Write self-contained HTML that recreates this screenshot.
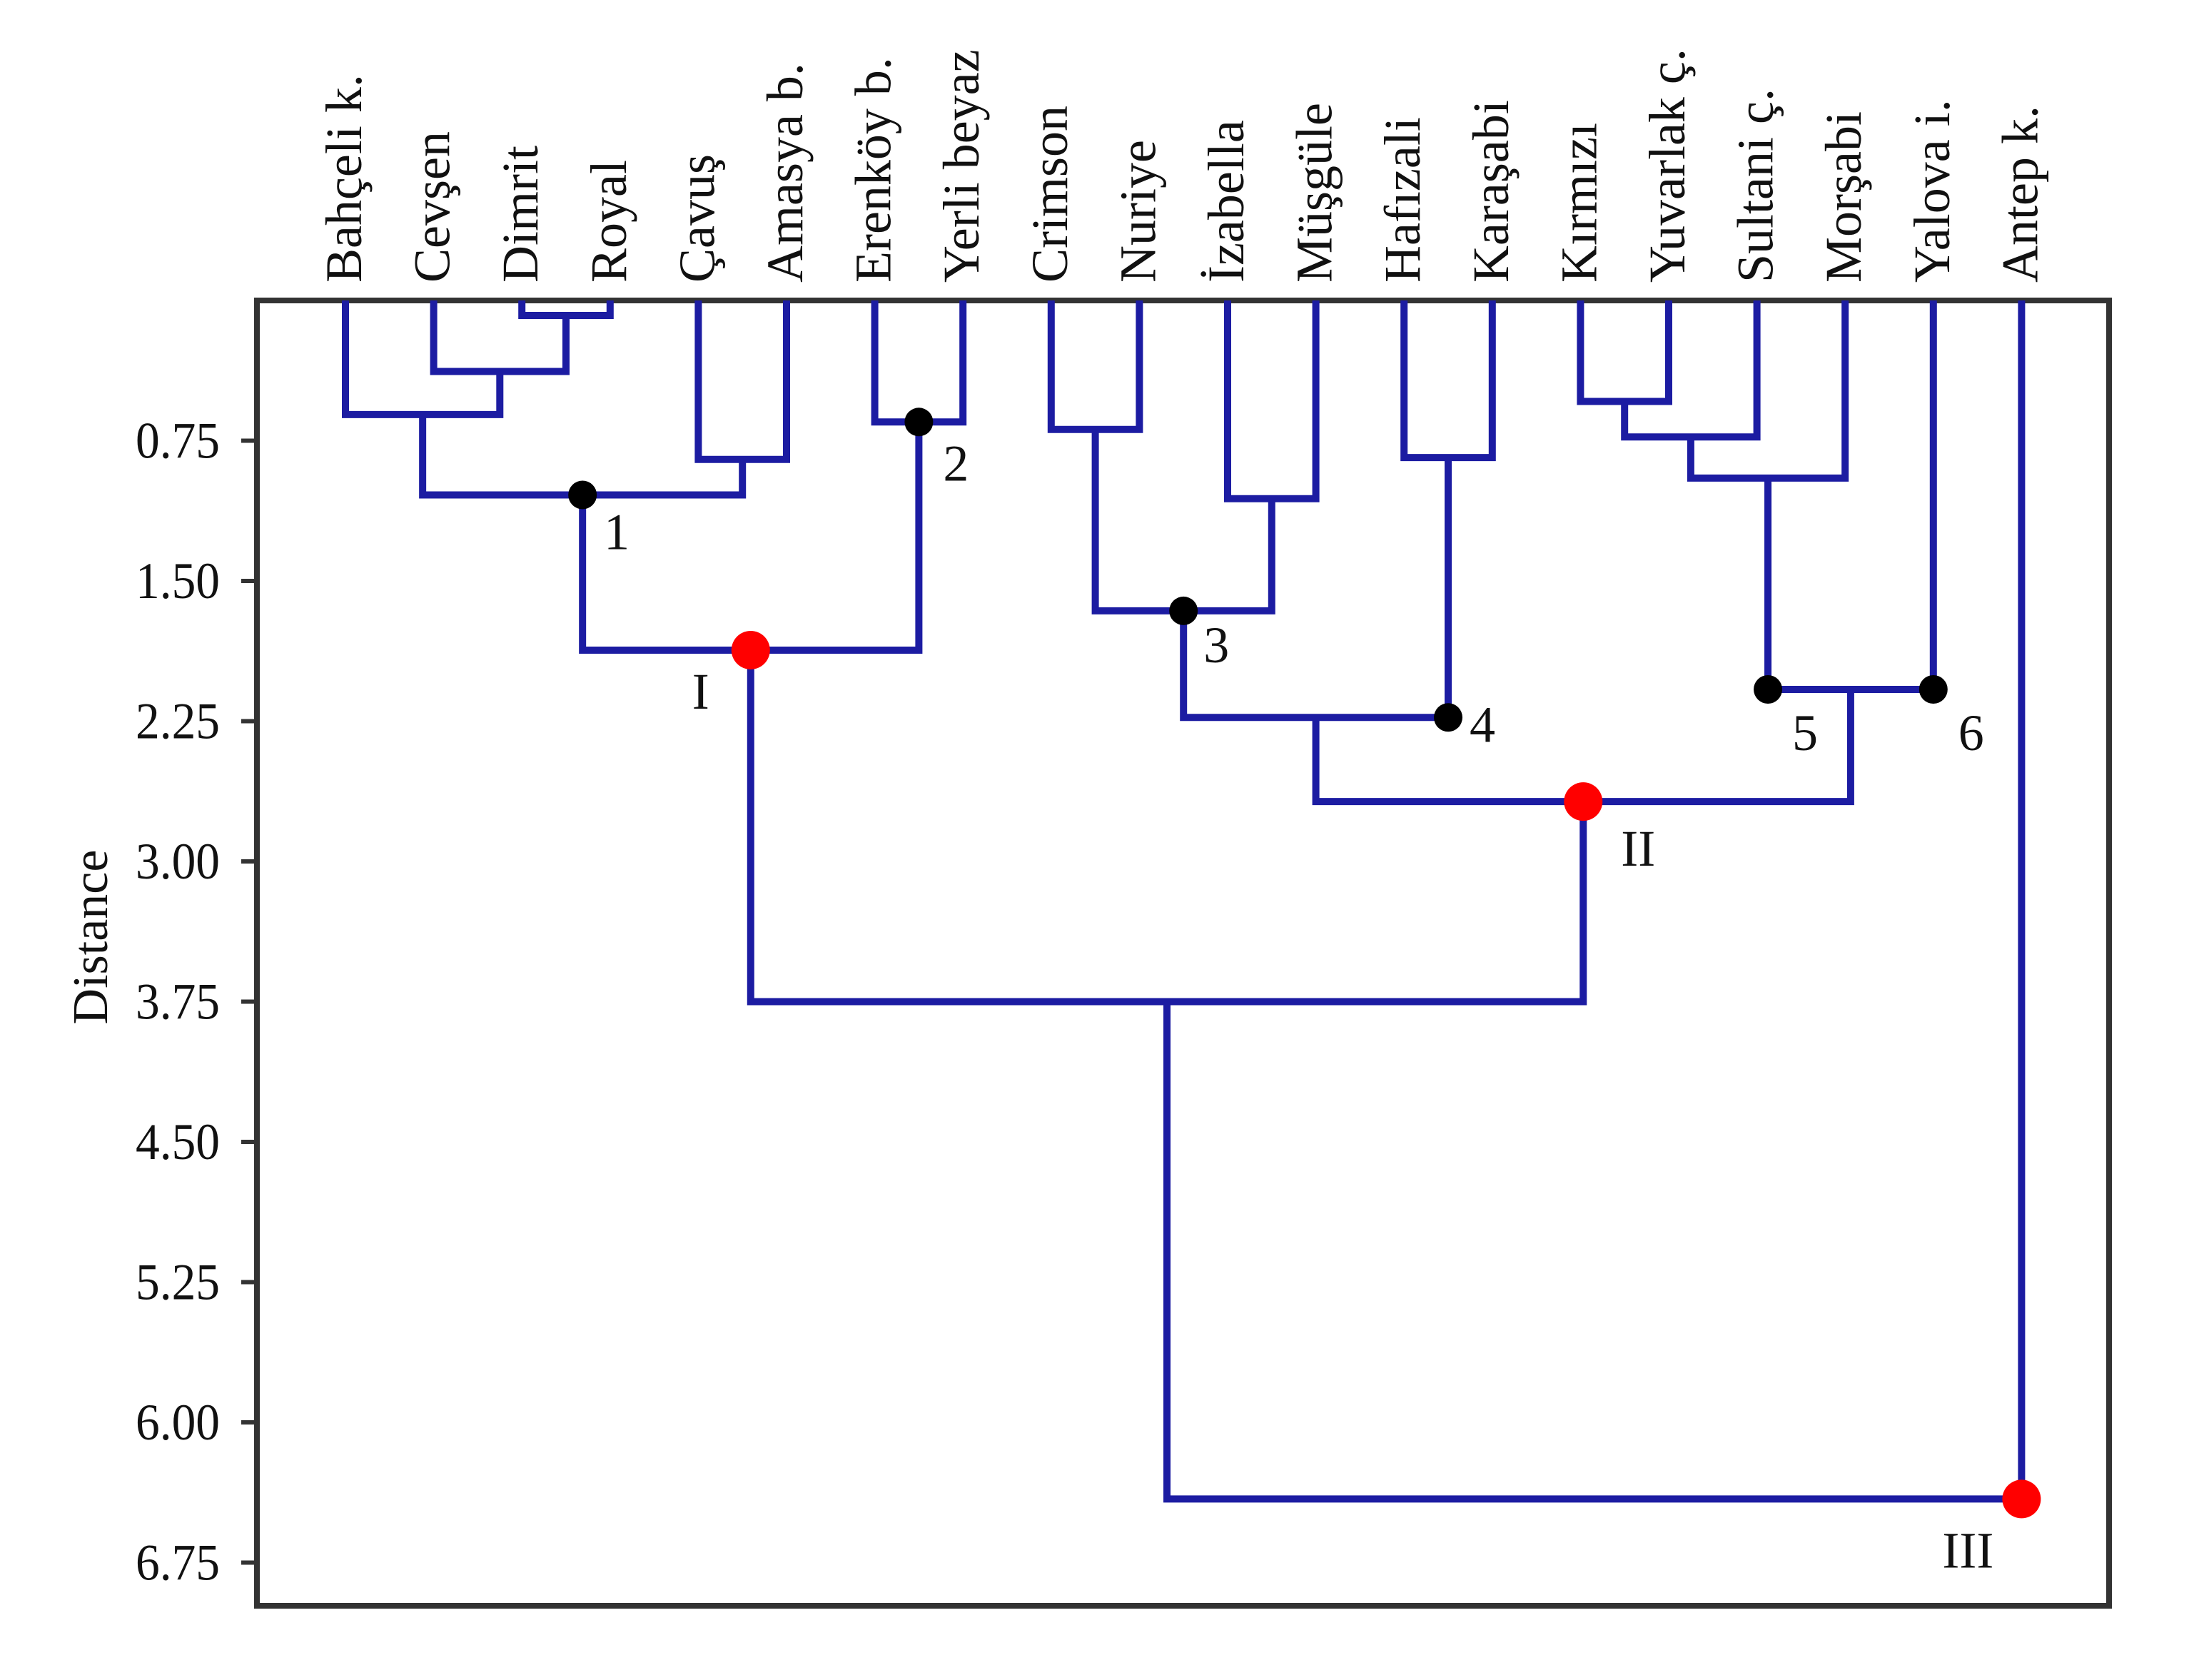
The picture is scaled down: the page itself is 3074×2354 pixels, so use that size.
<!DOCTYPE html>
<html><head><meta charset="utf-8"><style>
html,body{margin:0;padding:0;background:#fff}
svg{display:block}
text{font-family:"Liberation Serif",serif;fill:#111}
</style></head><body>
<svg id="chart" width="3074" height="2354" viewBox="0 0 3074 2354" xmlns="http://www.w3.org/2000/svg">
<rect x="360" y="421" width="2595" height="1829" fill="none" stroke="#333" stroke-width="8"/>
<text transform="translate(150,1313) rotate(-90)" text-anchor="middle" font-size="70">Distance</text>
<g id="marks"></g>
</svg>
<script>
const leaves = ["Bahçeli k.","Cevşen","Dimrit","Royal","Çavuş","Amasya b.","Erenköy b.","Yerli  beyaz","Crimson","Nuriye","İzabella","Müşgüle","Hafızali","Karaşabi","Kırmızı","Yuvarlak  ç.","Sultani  ç.","Morşabi","Yalova i.","Antep k."];
// merges: cluster id = 20 + index; children are leaf indices (0..19) or cluster ids
const mergeLeft  = [2, 1, 0, 4, 22, 6, 24, 8, 10, 27, 12, 29, 14, 32, 33, 34, 31, 26, 37];
const mergeRight = [3, 20, 21, 5, 23, 7, 25, 9, 11, 28, 13, 30, 15, 16, 17, 18, 35, 36, 19];
const mergeHeight= [0.08,0.38,0.61,0.85,1.04,0.65,1.87,0.69,1.06,1.66,0.84,2.23,0.54,0.73,0.95,2.08,2.68,3.75,6.41];
const yTicks = [0.75,1.50,2.25,3.00,3.75,4.50,5.25,6.00,6.75];
// markers: merge index, position, color, label, label offsets
const markerMerge = [4, 5, 6, 9, 11, 15, 15, 16, 18];
const markerPos   = ['mid','mid','mid','mid','right','left','right','mid','right'];
const markerColor = ['black','black','red','black','black','black','black','red','red'];
const markerLabel = ['1','2','I','3','4','5','6','II','III'];
const labelDx = [48, 52, -70, 46, 48, 52, 53, 77, -75];
const labelDy = [52, 58, 58, 48, 10, 61, 61, 66, 72];
</script>
<script>
const NS="http://www.w3.org/2000/svg";
const svg=document.getElementById('marks');
const X0=484, STEP=123.6, Y0=421, YS=262;
const xLeaf=i=>X0+i*STEP;
const yScale=d=>Y0+d*YS;
function mk(tag,attrs){const e=document.createElementNS(NS,tag);for(const k in attrs)e.setAttribute(k,attrs[k]);svg.appendChild(e);return e;}
yTicks.forEach(t=>{
  const y=yScale(t);
  const tk=mk('line',{x1:338,x2:360,y1:y,y2:y,stroke:'#333','stroke-width':6});
  
  
  const tl=mk('text',{x:308,y:y,'text-anchor':'end','dominant-baseline':'central','font-size':72,'textLength':118,'lengthAdjust':'spacingAndGlyphs'});
  tl.textContent=t.toFixed(2);
  
  
});
leaves.forEach((n,i)=>{
  const x=xLeaf(i)+22;
  const t=mk('text',{transform:`translate(${x},396) rotate(-90)`,'text-anchor':'start','font-size':72});
  t.textContent=n;
  
  
});
const nx=[],ny=[];
leaves.forEach((n,i)=>{nx[i]=xLeaf(i);ny[i]=0;});
const col='#1c1ca2';
for(let m=0;m<mergeLeft.length;m++){
  const a=mergeLeft[m], b=mergeRight[m], h=mergeHeight[m];
  const id=20+m;
  nx[id]=(nx[a]+nx[b])/2; ny[id]=h;
  const xa=nx[a], xb=nx[b], ya=yScale(ny[a]), yb=yScale(ny[b]), y=yScale(h);
  const p=mk('path',{d:`M${xa},${ya}V${y}H${xb}V${yb}`,fill:'none',stroke:col,'stroke-width':10,'stroke-linejoin':'miter'});
  
  
}
markerMerge.forEach((mi,k)=>{
  const a=mergeLeft[mi], b=mergeRight[mi];
  const pos=markerPos[k];
  const x=pos==='mid'?(nx[a]+nx[b])/2:(pos==='left'?nx[a]:nx[b]);
  const y=yScale(mergeHeight[mi]);
  const c=mk('circle',{cx:x,cy:y,r:markerColor[k]==='red'?27:20,fill:markerColor[k]==='red'?'#f00':'#000'});
  
  
  const t=mk('text',{x:x+labelDx[k],y:y+labelDy[k],'text-anchor':'middle','dominant-baseline':'central','font-size':72});
  t.textContent=markerLabel[k];
  
  
});
</script>
</body></html>
